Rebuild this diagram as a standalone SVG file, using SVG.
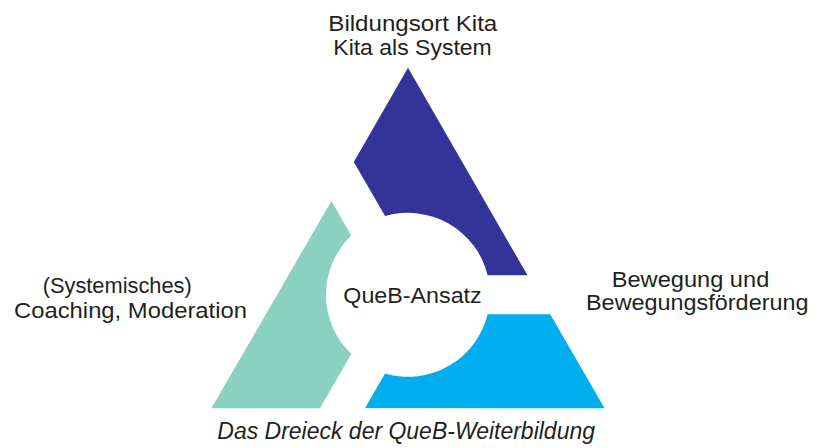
<svg xmlns="http://www.w3.org/2000/svg" width="826" height="448" viewBox="0 0 826 448">
  <style>
    .lbl { font-family: "Liberation Sans", Arial, sans-serif; font-size: 22px; fill: #231f20; }
    .cap { font-style: italic; font-size: 23px; }
  </style>
  <defs>
    <path id="piece" d="M 408,67.8 L 527.5,275.3 L 487.65,275.3 A 82,82 0 0 0 385.07,216.07 L 353.8,161.9 Z"/>
  </defs>
  <rect width="826" height="448" fill="#ffffff"/>
  <g id="connectors"></g>
  <g id="node-top">
    <use href="#piece" fill="#333399"/>
    <text class="lbl" x="328.3" y="31" textLength="169" lengthAdjust="spacingAndGlyphs">Bildungsort Kita</text>
    <text class="lbl" x="333.3" y="54.5" textLength="158.4" lengthAdjust="spacingAndGlyphs">Kita als System</text>
  </g>
  <g id="node-right">
    <use href="#piece" fill="#00aeef" transform="rotate(120 408 294.8)"/>
    <text class="lbl" x="611.7" y="286.5" textLength="157.6" lengthAdjust="spacingAndGlyphs">Bewegung und</text>
    <text class="lbl" x="586" y="310" textLength="222.5" lengthAdjust="spacingAndGlyphs">Bewegungsförderung</text>
  </g>
  <g id="node-left">
    <use href="#piece" fill="#8bd1c0" transform="rotate(240 408 294.8)"/>
    <text class="lbl" x="42.7" y="293" textLength="149" lengthAdjust="spacingAndGlyphs">(Systemisches)</text>
    <text class="lbl" x="14" y="318" textLength="233" lengthAdjust="spacingAndGlyphs">Coaching, Moderation</text>
  </g>
  <g id="node-center">
    <text class="lbl" x="343.3" y="303" textLength="138.4" lengthAdjust="spacingAndGlyphs">QueB-Ansatz</text>
  </g>
  <g id="caption">
    <text class="lbl cap" x="217.3" y="439" textLength="377.7" lengthAdjust="spacingAndGlyphs">Das Dreieck der QueB-Weiterbildung</text>
  </g>
</svg>
